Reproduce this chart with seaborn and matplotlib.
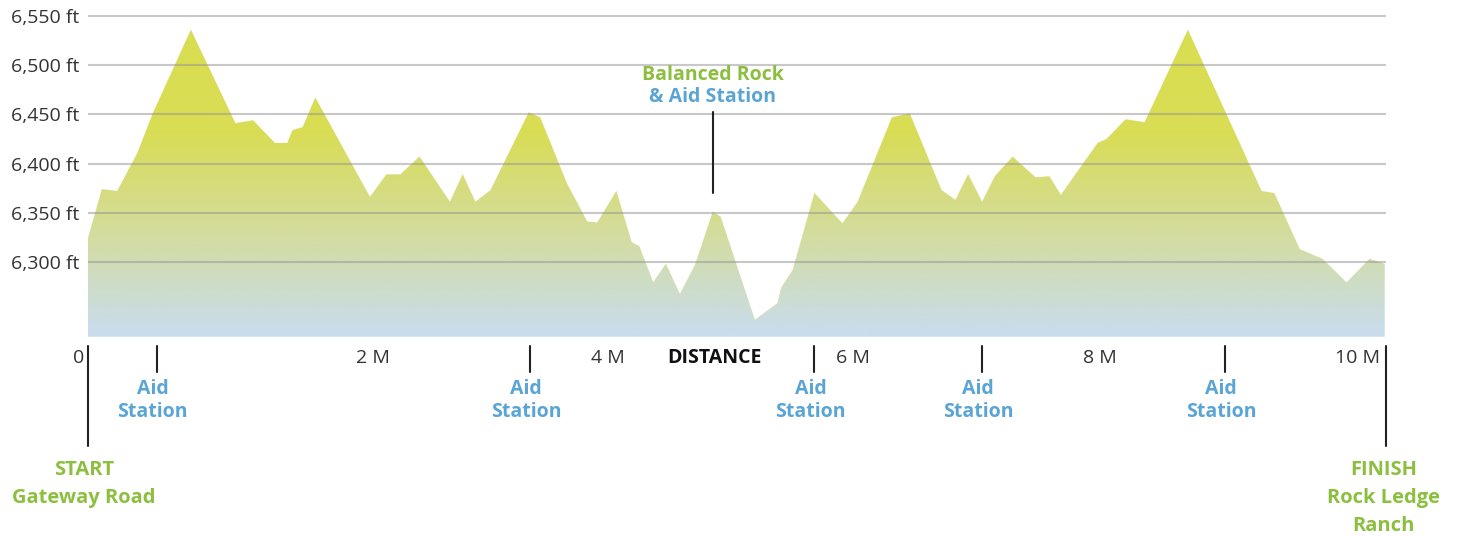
import numpy as np
import pandas as pd
import seaborn as sns
import matplotlib.pyplot as plt
from matplotlib.colors import LinearSegmentedColormap

# elevation profile (miles, feet)
miles = [0.00, 0.11, 0.23, 0.39, 0.51, 0.81, 1.16, 1.30, 1.47, 1.57, 1.61, 1.69,
         1.79, 2.22, 2.35, 2.46, 2.61, 2.85, 2.95, 3.05, 3.17, 3.47, 3.56, 3.77,
         3.93, 4.01, 4.16, 4.28, 4.34, 4.45, 4.55, 4.66, 4.78, 4.92, 4.98, 5.25,
         5.43, 5.46, 5.55, 5.72, 5.94, 6.06, 6.33, 6.47, 6.72, 6.83, 6.93, 7.04,
         7.14, 7.28, 7.46, 7.57, 7.66, 7.95, 8.02, 8.17, 8.32, 8.66, 9.24, 9.34,
         9.54, 9.72, 9.91, 10.09, 10.21]
elev = [6324, 6374, 6372, 6411, 6451, 6536, 6441, 6444, 6421, 6421, 6434, 6437,
        6467, 6366, 6389, 6389, 6407, 6361, 6389, 6361, 6373, 6452, 6447, 6380,
        6341, 6340, 6372, 6320, 6316, 6279, 6298, 6267, 6297, 6351, 6346, 6241,
        6258, 6274, 6292, 6370, 6339, 6361, 6447, 6451, 6373, 6363, 6389, 6361,
        6387, 6407, 6386, 6387, 6368, 6421, 6425, 6445, 6442, 6536, 6372, 6370,
        6313, 6303, 6279, 6303, 6298]

elev_ticks = [6300, 6350, 6400, 6450, 6500, 6550]
dist_ticks = [0, 2, 4, 6, 8, 10]
dist_labels = ['0', '2 M', '4 M', '6 M', '8 M', '10 M']
aid_miles = [0.54, 3.48, 5.72, 7.04, 8.95]
rock_mile = 4.93
finish_mile = 10.22

GREEN = '#8cbf3f'
BLUE = '#5aa5d5'

sns.set_theme(style='white')
plt.rcParams['font.family'] = ['Open Sans', 'DejaVu Sans']

fig = plt.figure(figsize=(14.64, 5.36), dpi=100)
ax = fig.add_axes([88 / 1464, 199.3 / 536, 1298 / 1464, 330.4 / 536])

ymin, ymax = 6224, 6560
df = pd.DataFrame({'mile': miles, 'elev': elev})

# gradient fill clipped to the profile
poly = ax.fill_between(df['mile'], df['elev'], ymin, color='none', lw=0)
cmap = LinearSegmentedColormap.from_list(
    'trail', [(0, '#c8dcf0'), (0.32, '#d4dc9c'), (0.62, '#d9dd55'), (1, '#d9dd4f')])
grad = np.linspace(0, 1, 256).reshape(-1, 1)
img = ax.imshow(grad, cmap=cmap, origin='lower', aspect='auto',
                extent=[0, finish_mile, ymin, ymax], zorder=1)
img.set_clip_path(poly.get_paths()[0], transform=ax.transData)
sns.lineplot(data=df, x='mile', y='elev', ax=ax, color='#d7dc80', lw=0.5,
             alpha=0.4, zorder=2)

ax.set_xlim(0, finish_mile)
ax.set_ylim(ymin, ymax)
ax.set_yticks(elev_ticks)
ax.set_yticklabels([f'{v:,} ft' for v in elev_ticks], fontsize=14, color='#333333')
ax.tick_params(axis='y', length=0, pad=6)
ax.set_xticks([])
ax.set_xlabel('')
ax.set_ylabel('')
ax.yaxis.grid(True, color='#939393', alpha=0.5, lw=1.5)
ax.set_axisbelow(False)
for s in ax.spines.values():
    s.set_visible(False)

# distance labels (placed in the gaps between markers)
label_x = [-0.03, 2.24, 4.09, 6.02, 7.97, 10.17]
label_ha = ['right', 'center', 'center', 'center', 'center', 'right']
for x, lab, ha in zip(label_x, dist_labels, label_ha):
    ax.text(x, 6202, lab, ha=ha, va='center', fontsize=14, color='#333333', clip_on=False)
ax.text(rock_mile, 6202, 'DISTANCE', ha='center', va='center', fontsize=14,
        fontweight='bold', color='#111111', clip_on=False)

# markers below the axis
for x in [0, finish_mile - 0.002]:
    ax.plot([x, x], [6215, 6113], color='#222222', lw=1.5, clip_on=False)
for x in aid_miles:
    ax.plot([x, x], [6215, 6188], color='#222222', lw=1.5, clip_on=False)
    ax.text(x - 0.03, 6159, 'Aid\nStation', ha='center', va='center', fontsize=14,
            fontweight='bold', color=BLUE, linespacing=1.15, clip_on=False)

ax.text(-0.03, 6099, 'START\nGateway Road', ha='center', va='top', fontsize=14.5,
        fontweight='bold', color=GREEN, linespacing=1.55, clip_on=False)
ax.text(10.20, 6099, 'FINISH\nRock Ledge\nRanch', ha='center', va='top', fontsize=14.5,
        fontweight='bold', color=GREEN, linespacing=1.55, clip_on=False)

# Balanced Rock marker
ax.plot([rock_mile - 0.01] * 2, [6452, 6370], color='#222222', lw=1.5, zorder=3)
ax.text(rock_mile - 0.01, 6490, 'Balanced Rock', ha='center', va='center', fontsize=14,
        fontweight='bold', color=GREEN, zorder=4)
ax.text(rock_mile - 0.01, 6468, '& Aid Station', ha='center', va='center', fontsize=14,
        fontweight='bold', color=BLUE, zorder=4)

fig.savefig('out.png', dpi=100)
